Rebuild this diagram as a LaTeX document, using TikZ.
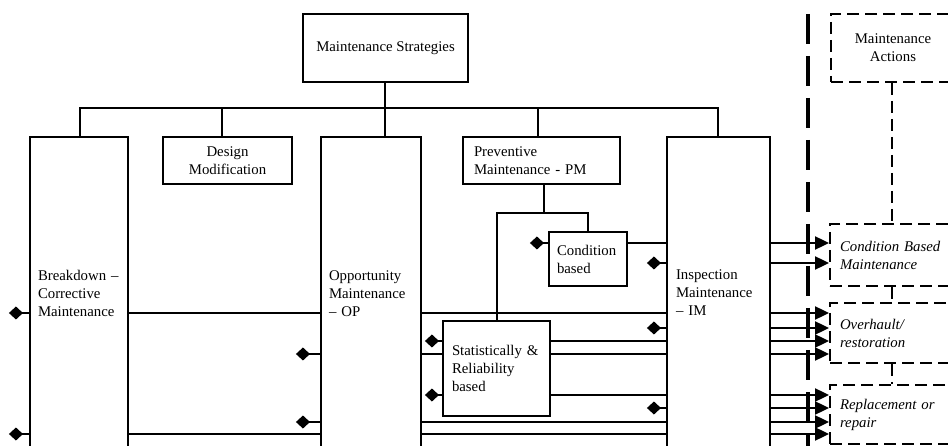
\documentclass[tikz,border=0pt]{standalone}
\usepackage{fontspec}
\setmainfont{Liberation Serif}
\usetikzlibrary{arrows.meta}
\begin{document}
\begin{tikzpicture}[x=1pt,y=-1pt,
  ln/.style={line width=2.1pt},
  box/.style={draw, line width=2.1pt, inner sep=0pt, font=\fontsize{14.8}{18}\selectfont},
  dbox/.style={box, line width=1.9pt, dash pattern=on 12pt off 6pt},
  itx/.style={font=\fontsize{14.8}{18}\selectfont\itshape},
  dline/.style={line width=1.9pt, dash pattern=on 12pt off 6pt},
  dmk/.style={line width=2.1pt, -{Diamond[length=14pt,width=13pt]}},
  arr/.style={line width=2.1pt, -{Triangle[length=14pt,width=13pt]}},
  sepline/.style={line width=4.5pt, dash pattern=on 30pt off 12pt}
]
\useasboundingbox (0,0) rectangle (948,446);
\fill[white] (0,0) rectangle (948,446);
\clip (0,0) rectangle (948,446);

% strategy boxes
\node[box, minimum width=165pt, minimum height=68pt, align=center] (ms) at (385.5,48) {Maintenance Strategies};
\node[box, minimum width=129pt, minimum height=47pt, align=center] (dsg) at (227.5,160.5) {Design\\Modification};
\node[box, minimum width=157pt, minimum height=47pt, text width=135pt, align=left] (pm) at (541.5,160.5) {Preventive\\Maintenance - PM};
\node[box, minimum width=98pt, minimum height=312pt, text width=82pt, align=left] (brk) at (79,293) {Breakdown –\\Corrective\\Maintenance};
\node[box, minimum width=100pt, minimum height=314pt, text width=84pt, align=left] (opp) at (371,294) {Opportunity\\Maintenance\\– OP};
\node[box, minimum width=103pt, minimum height=312pt, text width=85pt, align=left] (insp) at (718.5,293) {Inspection\\Maintenance\\– IM};
\node[box, minimum width=78pt, minimum height=54pt, text width=62pt, align=left] (cond) at (588,259) {Condition\\based};
\node[box, minimum width=107pt, minimum height=95pt, text width=89pt, align=left] (stat) at (496.5,368.5) {Statistically \&\\Reliability\\based};

% action boxes
\node[dbox, minimum width=124pt, minimum height=68pt, align=center] (act) at (893,48) {Maintenance\\Actions};
\node[dbox, itx, minimum width=136pt, minimum height=62pt, text width=116pt, align=left] (cbm) at (898,255) {Condition Based\\Maintenance};
\node[dbox, itx, minimum width=136pt, minimum height=60pt, text width=116pt, align=left] (ovh) at (898,333) {Overhault/\\restoration};
\node[dbox, itx, minimum width=136pt, minimum height=59pt, text width=116pt, align=left] (rep) at (898,414.5) {Replacement or\\repair};

% tree from Maintenance Strategies
\coordinate (b1) at (80,108);
\coordinate (b2) at (222,108);
\coordinate (b3) at (385,108);
\coordinate (b4) at (538,108);
\coordinate (b5) at (718,108);
\draw[ln] (ms.south -| b3) -- (b3);
\draw[ln] (b1 |- brk.north) -- (b1) -- (b5) -- (b5 |- insp.north);
\draw[ln] (b2) -- (b2 |- dsg.north);
\draw[ln] (b3) -- (b3 |- opp.north);
\draw[ln] (b4) -- (b4 |- pm.north);

% preventive sub-tree
\coordinate (pj) at (544,213);
\coordinate (sx) at (497,0);
\draw[ln] (pm.south -| pj) -- (pj);
\draw[ln] (stat.north -| sx) -- (sx |- pj) -- (cond.north |- pj) -- (cond.north);

% horizontal links
\foreach \y in {313,434} \draw[ln] (brk.east |- 0,\y) -- (opp.west |- 0,\y);
\foreach \y in {313,422,434} \draw[ln] (opp.east |- 0,\y) -- (insp.west |- 0,\y);
\draw[ln] (opp.east |- 0,354) -- (stat.west |- 0,354);
\foreach \y in {341,354,395} \draw[ln] (stat.east |- 0,\y) -- (insp.west |- 0,\y);
\draw[ln] (cond.east |- 0,243) -- (insp.west |- 0,243);

% diamond markers
\foreach \y in {313,434} \draw[dmk] (brk.west |- 0,\y) -- ++(-20,0);
\foreach \y in {354,422} \draw[dmk] (opp.west |- 0,\y) -- ++(-24,0);
\foreach \y in {341,395} \draw[dmk] (stat.west |- 0,\y) -- ++(-17,0);
\draw[dmk] (cond.west |- 0,243) -- ++(-18,0);
\foreach \y in {263,328,408} \draw[dmk] (insp.west |- 0,\y) -- ++(-19,0);

% arrows to maintenance actions
\foreach \y in {243,263} \draw[arr] (insp.east |- 0,\y) -- (cbm.west |- 0,\y);
\foreach \y in {313,328,341,354} \draw[arr] (insp.east |- 0,\y) -- (ovh.west |- 0,\y);
\foreach \y in {395,408,422,434} \draw[arr] (insp.east |- 0,\y) -- (rep.west |- 0,\y);

% dashed links between action boxes
\coordinate (dx) at (892,0);
\draw[dline] (act.south -| dx) -- (cbm.north -| dx);
\draw[dline] (cbm.south -| dx) -- (ovh.north -| dx);
\draw[dline] (ovh.south -| dx) -- (rep.north -| dx);

% thick dashed separator
\coordinate (sepT) at (808,14);
\coordinate (sepB) at (808,460);
\draw[sepline] (sepT) -- (sepB);
\end{tikzpicture}
\end{document}
